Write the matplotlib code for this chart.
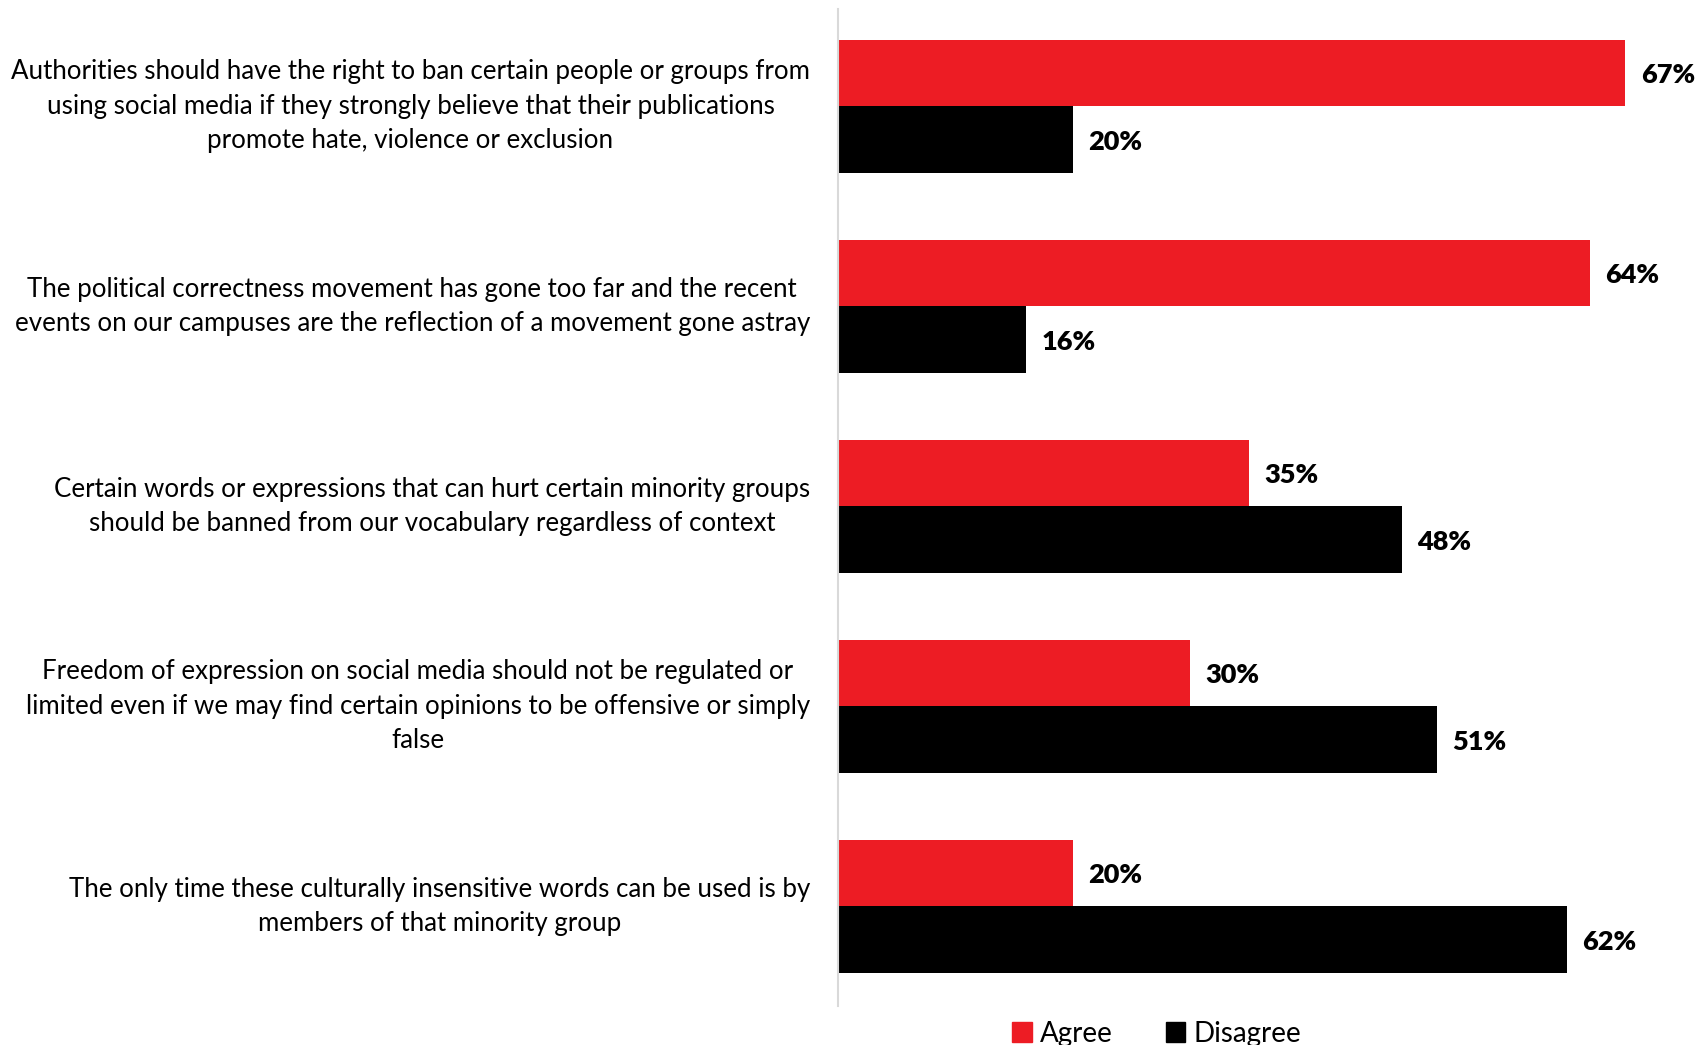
import matplotlib.pyplot as plt
import numpy as np
from matplotlib.patches import Patch

plt.rcParams["font.family"] = ["Lato", "DejaVu Sans"]

statements = [
    "Authorities should have the right to ban certain people or groups from\n"
    "using social media if they strongly believe that their publications\n"
    "promote hate, violence or exclusion",
    "The political correctness movement has gone too far and the recent\n"
    "events on our campuses are the reflection of a movement gone astray",
    "Certain words or expressions that can hurt certain minority groups\n"
    "should be banned from our vocabulary regardless of context",
    "Freedom of expression on social media should not be regulated or\n"
    "limited even if we may find certain opinions to be offensive or simply\n"
    "false",
    "The only time these culturally insensitive words can be used is by\n"
    "members of that minority group",
]
agree = [67, 64, 35, 30, 20]
disagree = [20, 16, 48, 51, 62]

RED = "#ED1C24"
BLACK = "#000000"

fig = plt.figure(figsize=(16.96, 10.45), dpi=100)
ax = fig.add_axes([0.494, 0.037, 0.499, 0.954])

y = np.arange(len(statements))
h = 1 / 3
ax.barh(y - h / 2, agree, height=h, color=RED, label="Agree")
ax.barh(y + h / 2, disagree, height=h, color=BLACK, label="Disagree")

for yi, a, d in zip(y, agree, disagree):
    ax.text(a + 1.3, yi - h / 2, f"{a}%", va="center_baseline", ha="left",
            fontsize=19.5, fontweight="heavy")
    ax.text(d + 1.3, yi + h / 2, f"{d}%", va="center_baseline", ha="left",
            fontsize=19.5, fontweight="heavy")

# category text sits left of the axis, each block centred on its own lines
for yi, s in zip(y, statements):
    ax.text(-0.033, yi, s, transform=ax.get_yaxis_transform(),
            ha="right", va="center", multialignment="center",
            fontsize=18.6, linespacing=1.48)

ax.set_xlim(0, 72)
ax.set_ylim(4.5, -0.485)
ax.set_xticks([])
ax.set_yticks([])
for side in ("top", "right", "bottom"):
    ax.spines[side].set_visible(False)
ax.spines["left"].set_color("#D9D9D9")
ax.spines["left"].set_linewidth(1.5)

handles = [Patch(color=RED, label="Agree"), Patch(color=BLACK, label="Disagree")]
fig.legend(handles=handles, loc="center", bbox_to_anchor=(0.682, 0.011),
           ncol=2, frameon=False, fontsize=20, handlelength=0.7,
           handleheight=0.7, handletextpad=0.3, columnspacing=1.9)

fig.savefig("out.png", dpi=100)
